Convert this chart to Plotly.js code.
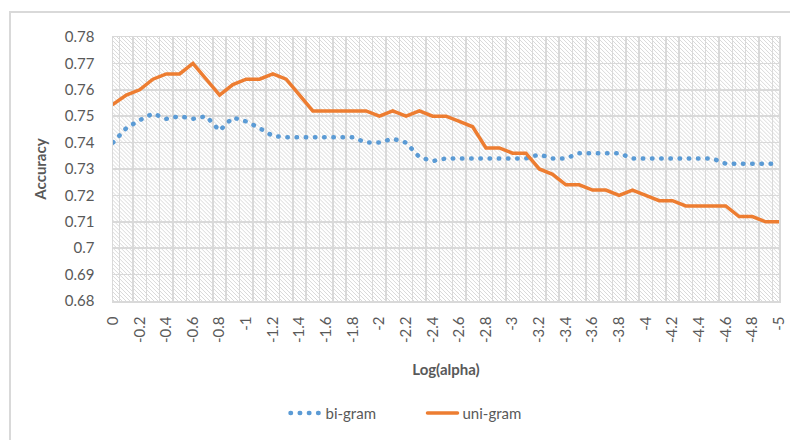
<!DOCTYPE html>
<html>
<head>
<meta charset="utf-8">
<script src="https://cdn.plot.ly/plotly-3.0.1.min.js"></script>
<style>
  html, body { margin: 0; padding: 0; background: #ffffff; }
  #frame { position: absolute; left: 9px; top: 11px; width: 800px; height: 450px; border: 2px solid #d9d9d9; }
  #chart { position: absolute; left: 0; top: 0; width: 790px; height: 440px; }
  path.js-line { stroke-linecap: round; }
</style>
</head>
<body>
<div id="frame"></div>
<div id="chart"></div>
<script>
const categories = ["0","-0.1","-0.2","-0.3","-0.4","-0.5","-0.6","-0.7","-0.8","-0.9",
  "-1","-1.1","-1.2","-1.3","-1.4","-1.5","-1.6","-1.7","-1.8","-1.9",
  "-2","-2.1","-2.2","-2.3","-2.4","-2.5","-2.6","-2.7","-2.8","-2.9",
  "-3","-3.1","-3.2","-3.3","-3.4","-3.5","-3.6","-3.7","-3.8","-3.9",
  "-4","-4.1","-4.2","-4.3","-4.4","-4.5","-4.6","-4.7","-4.8","-4.9","-5"];

const xTickLabels = ["0","","-0.2","","-0.4","","-0.6","","-0.8","",
  "-1","","-1.2","","-1.4","","-1.6","","-1.8","",
  "-2","","-2.2","","-2.4","","-2.6","","-2.8","",
  "-3","","-3.2","","-3.4","","-3.6","","-3.8","",
  "-4","","-4.2","","-4.4","","-4.6","","-4.8","","-5"];

const biGram = [0.740,0.7455,0.7485,0.751,0.749,0.750,0.749,0.750,0.7445,0.7495,
  0.748,0.7455,0.7425,0.742,0.742,0.742,0.742,0.742,0.742,0.740,
  0.740,0.7415,0.740,0.7345,0.733,0.734,0.734,0.734,0.734,0.734,
  0.734,0.734,0.7355,0.734,0.734,0.736,0.736,0.736,0.736,0.734,
  0.734,0.734,0.734,0.734,0.734,0.734,0.732,0.732,0.732,0.732,0.732];

const uniGram = [0.7545,0.758,0.760,0.764,0.766,0.766,0.770,0.764,0.758,0.762,
  0.764,0.764,0.766,0.764,0.758,0.752,0.752,0.752,0.752,0.752,
  0.750,0.752,0.750,0.752,0.750,0.750,0.748,0.746,0.738,0.738,
  0.736,0.736,0.730,0.728,0.724,0.724,0.722,0.722,0.720,0.722,
  0.720,0.718,0.718,0.716,0.716,0.716,0.716,0.712,0.712,0.710,0.710];

const seriesNames = ["bi-gram", "uni-gram"];
const yTickVals = [0.68,0.69,0.70,0.71,0.72,0.73,0.74,0.75,0.76,0.77,0.78];
const yTickText = ["0.68","0.69","0.7","0.71","0.72","0.73","0.74","0.75","0.76","0.77","0.78"];

const FONT = "Lato, 'Open Sans', sans-serif";
const TXT = "#595959";

const hatchSvg = "<svg xmlns='http://www.w3.org/2000/svg' width='666' height='265'>" +
  "<defs><pattern id='p' width='4' height='4' patternUnits='userSpaceOnUse'>" +
  "<rect width='4' height='4' fill='#ffffff'/>" +
  "<path d='M-1,-1 L5,5 M-1,3 L1,5 M3,-1 L5,1' stroke='#d9d9d9' stroke-width='1'/>" +
  "</pattern></defs><rect width='666' height='265' fill='url(#p)'/></svg>";
const hatchUri = "data:image/svg+xml;charset=utf-8," + encodeURIComponent(hatchSvg);

const traces = [
  {
    x: categories, y: biGram, name: seriesNames[0], type: "scatter", mode: "lines",
    line: { color: "#5B9BD5", width: 4.5, dash: "0.5px,8.7px" }
  },
  {
    x: categories, y: uniGram, name: seriesNames[1], type: "scatter", mode: "lines",
    line: { color: "#ED7D31", width: 3.5 }
  }
];

const layout = {
  width: 790, height: 440,
  margin: { l: 113, r: 11, t: 37, b: 138 },
  paper_bgcolor: "rgba(0,0,0,0)",
  plot_bgcolor: "rgba(0,0,0,0)",
  font: { family: FONT, size: 15, color: TXT },
  showlegend: true,
  legend: {
    orientation: "h", x: 0.259, xanchor: "left", y: -0.42, yanchor: "middle",
    entrywidth: 92, entrywidthmode: "pixels",
    font: { family: FONT, size: 15, color: TXT }, bgcolor: "rgba(0,0,0,0)"
  },
  xaxis: {
    type: "category",
    categoryorder: "array", categoryarray: categories,
    tickmode: "array", tickvals: categories, ticktext: xTickLabels,
    tickson: "boundaries",
    tickangle: -90,
    ticks: "",
    ticklabelstandoff: 8,
    showgrid: true, gridcolor: "#d9d9d9", gridwidth: 1.5,
    showline: true, linecolor: "#d9d9d9", linewidth: 1.5, mirror: true,
    tickfont: { family: FONT, size: 15, color: TXT },
    title: { text: "<b>Log(alpha)</b>", font: { family: FONT, size: 15, color: TXT }, standoff: 22 }
  },
  yaxis: {
    range: [0.68, 0.78],
    tickmode: "array", tickvals: yTickVals, ticktext: yTickText,
    ticks: "",
    ticklabelstandoff: 14,
    showgrid: true, gridcolor: "#d9d9d9", gridwidth: 1.5,
    zeroline: false,
    showline: true, linecolor: "#d9d9d9", linewidth: 1.5, mirror: true,
    tickfont: { family: FONT, size: 15, color: TXT },
    title: { text: "<b>Accuracy</b>", font: { family: FONT, size: 15, color: TXT }, standoff: 14 }
  },
  images: [{
    source: hatchUri, xref: "paper", yref: "paper", x: 0, y: 1, sizex: 1, sizey: 1,
    xanchor: "left", yanchor: "top", sizing: "stretch", layer: "below"
  }]
};

Plotly.newPlot("chart", traces, layout, { displayModeBar: false, staticPlot: true });
</script>
</body>
</html>
